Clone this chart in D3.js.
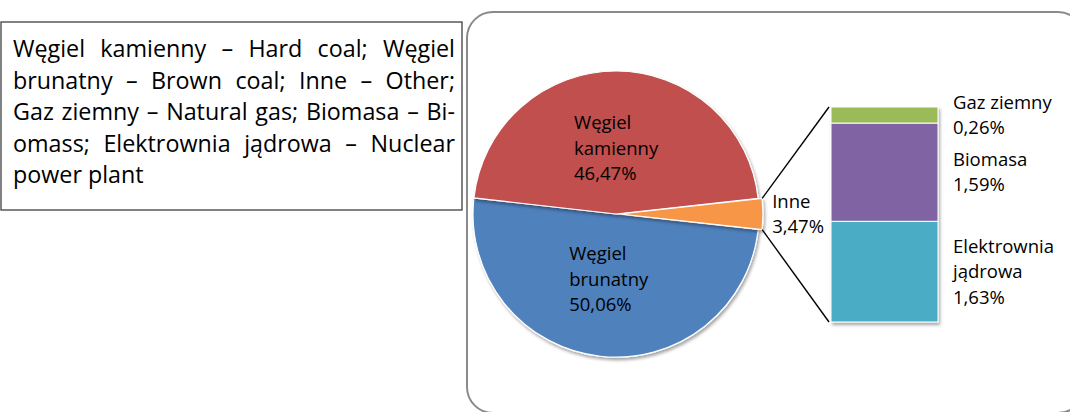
<!DOCTYPE html>
<html lang="pl">
<head>
<meta charset="UTF-8">
<script src="https://d3js.org/d3.v7.min.js"></script>
<title>Struktura produkcji energii elektrycznej</title>
<style>
  body { margin: 0; background: #fff; }
  text { font-family: 'Open Sans', sans-serif; fill: #000; }
  text.note { font-size: 23.3px; }
  text.lbl { font-size: 18.5px; }
</style>
</head>
<body>
<svg width="1070" height="412"></svg>
<script>
// pie: drawn clockwise, "Inne" is split out into the bar
const pieNames = ["Węgiel brunatny", "Węgiel kamienny", "Inne"];
const pieValues = [50.06, 46.47, 3.47];
// bar: bottom to top
const barNames = ["Elektrownia jądrowa", "Biomasa", "Gaz ziemny"];
const barValues = [1.63, 1.59, 0.26];
const noteLines = [
  "Węgiel kamienny – Hard coal; Węgiel",
  "brunatny – Brown coal; Inne – Other;",
  "Gaz ziemny – Natural gas; Biomasa – Bi-",
  "omass; Elektrownia jądrowa – Nuclear",
  "power plant"
];

const pieColors = ["#4F81BD", "#C0504D", "#F79646"];
const barColors = ["#4BACC6", "#8064A2", "#9BBB59"];

const svg = d3.select("svg");
const pct = v => d3.format(".2f")(v).replace(".", ",") + "%";
const wrap = name => name.length > 10 ? name.split(" ") : [name];

const defs = svg.append("defs");
defs.append("filter").attr("id", "sh")
    .attr("x", "-20%").attr("y", "-20%").attr("width", "140%").attr("height", "140%")
  .append("feDropShadow")
    .attr("dx", 1.5).attr("dy", 2.5).attr("stdDeviation", 1.8)
    .attr("flood-color", "#000").attr("flood-opacity", 0.35);

// ---- note box on the left
svg.append("rect")
    .attr("x", 1).attr("y", 22).attr("width", 461).attr("height", 188)
    .attr("fill", "#fff").attr("stroke", "#404040").attr("stroke-width", 1.3);

const noteX0 = 13, noteX1 = 455;
noteLines.forEach((line, i) => {
  const y = 57 + i * 31.5;
  const words = line.split(" ");
  const g = svg.append("g");
  if (i === noteLines.length - 1) {
    g.append("text").attr("class", "note").attr("x", noteX0).attr("y", y).text(line);
    return;
  }
  const nodes = words.map(w => g.append("text").attr("class", "note").attr("y", y).text(w));
  const widths = nodes.map(n => n.node().getComputedTextLength());
  const gap = (noteX1 - noteX0 - d3.sum(widths)) / (words.length - 1);
  let x = noteX0;
  nodes.forEach((n, k) => { n.attr("x", x); x += widths[k] + gap; });
});

// ---- chart panel
svg.append("rect")
    .attr("x", 467).attr("y", 12).attr("width", 617).attr("height", 401).attr("rx", 26)
    .attr("fill", "none").attr("stroke", "#8a8a8a").attr("stroke-width", 2);

const cx = 616, cy = 214, r = 143, explode = 4;
const otherShare = pieValues[2] / d3.sum(pieValues);
const a0 = Math.PI / 2 - (1 - otherShare) * 2 * Math.PI - otherShare * Math.PI;
const pie = d3.pie().sort(null).startAngle(a0).endAngle(a0 + 2 * Math.PI);
const arcs = pie(pieValues);
const arc = d3.arc().innerRadius(0).outerRadius(r);
const labelArc = d3.arc().innerRadius(r * 0.46).outerRadius(r * 0.46);

const pg = svg.append("g").attr("transform", `translate(${cx},${cy})`);
pg.selectAll("path").data(arcs).enter().append("path")
    .attr("d", arc)
    .attr("transform", (d, i) => {
      if (i !== 2) return null;
      const m = (d.startAngle + d.endAngle) / 2;
      return `translate(${Math.sin(m) * explode},${-Math.cos(m) * explode})`;
    })
    .attr("fill", (d, i) => pieColors[i])
    .attr("stroke", "#fff").attr("stroke-width", 1.2)
    .attr("filter", "url(#sh)");

// labels inside the two big slices, left-aligned block centred on the centroid
arcs.slice(0, 2).forEach((d, i) => {
  const [lx, ly] = labelArc.centroid(d);
  const lines = wrap(pieNames[i]).concat([pct(pieValues[i])]);
  const t = pg.append("text").attr("class", "lbl");
  const spans = lines.map((s, k) => t.append("tspan")
      .attr("y", ly + (k - (lines.length - 1) / 2) * 25.5 + 6.5).text(s));
  const w = d3.max(spans, s => s.node().getComputedTextLength());
  spans.forEach(s => s.attr("x", lx - w / 2));
});

// ---- bar of "Inne"
const barX = 831, barW = 107;
const y = d3.scaleLinear().domain([0, d3.sum(barValues)]).range([322, 107]);
const tops = Array.from(d3.cumsum(barValues));

const other = arcs[2];
const ex = Math.sin((other.startAngle + other.endAngle) / 2) * explode;
const ey = -Math.cos((other.startAngle + other.endAngle) / 2) * explode;
const pTop = [cx + ex + Math.sin(other.startAngle) * r, cy + ey - Math.cos(other.startAngle) * r];
const pBot = [cx + ex + Math.sin(other.endAngle) * r, cy + ey - Math.cos(other.endAngle) * r];
svg.append("line").attr("x1", pTop[0]).attr("y1", pTop[1]).attr("x2", barX - 2).attr("y2", y(tops[tops.length - 1]))
    .attr("stroke", "#000").attr("stroke-width", 1.4);
svg.append("line").attr("x1", pBot[0]).attr("y1", pBot[1]).attr("x2", barX - 2).attr("y2", y(0))
    .attr("stroke", "#000").attr("stroke-width", 1.4);

// "Inne" label beside its slice
const inne = svg.append("text").attr("class", "lbl");
[pieNames[2], pct(pieValues[2])].forEach((s, k) =>
  inne.append("tspan").attr("x", pTop[0] + 10).attr("y", (pTop[1] + pBot[1]) / 2 + (k - 0.5) * 25.5 + 6.5).text(s));

const bg = svg.append("g").attr("filter", "url(#sh)");
bg.selectAll("rect").data(barValues).enter().append("rect")
    .attr("x", barX).attr("width", barW)
    .attr("y", (v, i) => y(tops[i]))
    .attr("height", (v, i) => y(tops[i] - v) - y(tops[i]))
    .attr("fill", (v, i) => barColors[i])
    .attr("stroke", "#fff").attr("stroke-width", 1);

barValues.forEach((v, i) => {
  const mid = y(tops[i] - v / 2);
  const lines = wrap(barNames[i]).concat([pct(v)]);
  const t = svg.append("text").attr("class", "lbl");
  lines.forEach((s, k) => t.append("tspan").attr("x", barX + barW + 15)
      .attr("y", mid + (k - (lines.length - 1) / 2) * 25.5 + 6.5).text(s));
});
</script>
</body>
</html>
